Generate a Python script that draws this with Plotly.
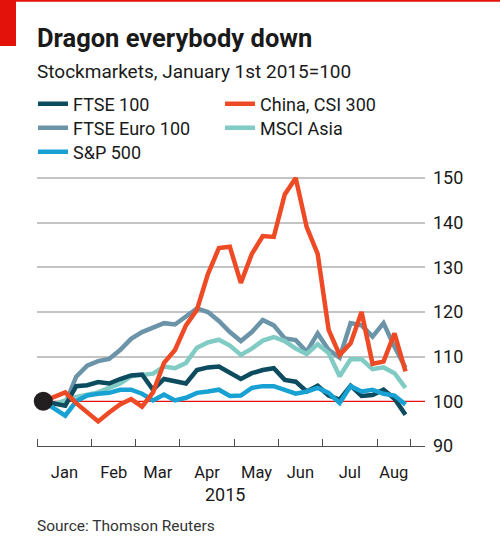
import plotly.graph_objects as go
import pandas as pd

# ---------------- data ----------------
week_start = "2015-01-05"
n_weeks = 34
dates = pd.date_range(week_start, periods=n_weeks, freq="7D")

ftse100 = [100, 99.6, 99.0, 103.4, 103.6, 104.3, 104.0, 105.0, 105.8, 106.0,
           102.6, 105.0, 104.5, 104.0, 107.0, 107.6, 107.8, 106.3, 105.0, 106.3,
           107.0, 107.4, 104.8, 104.4, 102.2, 103.5, 101.3, 100.4, 103.5, 101.2,
           101.4, 102.6, 100.6, 97.0]
china = [100, 101.0, 102.0, 99.6, 97.5, 95.5, 97.5, 99.3, 100.5, 98.8,
         102.0, 108.6, 111.5, 117.0, 120.5, 128.5, 134.3, 134.6, 126.5, 133.0,
         137.0, 136.8, 146.3, 150.0, 139.0, 133.0, 116.0, 110.4, 113.0, 120.0,
         108.4, 108.9, 115.2, 106.7]
ftse_euro = [100, 99.5, 99.5, 105.5, 108.0, 109.0, 109.5, 111.5, 114.0, 115.5,
             116.5, 117.5, 117.2, 119.0, 120.8, 120.0, 118.0, 115.5, 113.5, 115.5,
             118.2, 117.0, 114.1, 113.7, 111.1, 115.2, 111.5, 109.8, 117.5, 117.0,
             114.5, 117.5, 112.2, 107.5]
msci_asia = [100, 99.3, 100.2, 101.0, 101.5, 102.0, 103.0, 104.0, 105.6, 106.0,
             106.2, 107.8, 107.4, 108.6, 112.0, 113.2, 113.8, 112.5, 110.4, 111.8,
             113.6, 114.4, 113.5, 111.8, 110.6, 112.8, 110.8, 105.6, 109.4, 109.4,
             107.2, 107.6, 106.3, 103.0]
sp500 = [100, 98.5, 96.8, 100.0, 101.3, 101.7, 101.9, 102.6, 102.6, 101.7,
         100.2, 101.5, 100.2, 100.8, 101.9, 102.2, 102.6, 101.2, 101.3, 103.0,
         103.4, 103.4, 102.6, 101.7, 102.2, 103.0, 101.9, 99.6, 103.4, 102.2,
         102.6, 101.7, 101.3, 99.3]

month_labels = ["Jan", "Feb", "Mar", "Apr", "May", "Jun", "Jul", "Aug"]
month_bounds = ["2015-01-01", "2015-02-05", "2015-03-05", "2015-04-02", "2015-05-07",
                "2015-06-04", "2015-07-02", "2015-08-06", "2015-08-27"]
y_ticks = [90, 100, 110, 120, 130, 140, 150]
y_grid = [110, 120, 130, 140, 150]

# ---------------- layout helpers ----------------
W, H = 500, 547
ML, MR, MT, MB = 37, 75, 171, 101
PW, PH = W - ML - MR, H - MT - MB
PX_PER_UNIT = 4.4667
PX_PER_DAY = 1.568


def px_x(p):
    return (p - ML) / PW


def px_y(p):
    return (H - MB - p) / PH


b = pd.to_datetime(month_bounds)
mids = [b[i] + (b[i + 1] - b[i]) / 2 for i in range(len(b) - 1)]
x_start = pd.Timestamp("2015-01-01")
x_end = x_start + pd.Timedelta(days=PW / PX_PER_DAY)
y_top = 90 + PH / PX_PER_UNIT

fonts = "Roboto, 'Open Sans', sans-serif"

# name, values, colour, legend id, rank
series = [
    ("FTSE Euro 100", ftse_euro, "#6b94a8", "legend2", 1),
    ("MSCI Asia", msci_asia, "#80ccc5", "legend2", 2),
    ("FTSE 100", ftse100, "#0d4b5f", "legend", 1),
    ("S&P 500", sp500, "#18a1d3", "legend3", 1),
    ("China, CSI 300", china, "#ee4a25", "legend", 2),
]

fig = go.Figure()
for name, vals, col, leg, rank in series:
    fig.add_trace(go.Scatter(
        x=dates, y=vals, mode="lines", name=name, legend=leg, legendrank=rank,
        line=dict(color=col, width=4.5), hoverinfo="skip",
    ))

fig.add_trace(go.Scatter(
    x=[dates[0]], y=[ftse100[0]], mode="markers", showlegend=False,
    marker=dict(size=19, color="#231f20"), cliponaxis=False, hoverinfo="skip",
))


def leg(top):
    return dict(
        orientation="h", x=px_x(33), y=px_y(top), xanchor="left", yanchor="top",
        entrywidth=142, entrywidthmode="pixels",
        font=dict(size=18, color="#1a1a1a"), bgcolor="rgba(0,0,0,0)",
        traceorder="normal", itemclick=False, itemdoubleclick=False,
    )


fig.update_layout(
    width=W, height=H,
    margin=dict(l=ML, r=MR, t=MT, b=MB, pad=0),
    paper_bgcolor="white", plot_bgcolor="white",
    font=dict(family=fonts, color="#1a1a1a"),
    showlegend=True,
    legend=leg(85.5),
    legend2=leg(109.5),
    legend3=leg(133.5),
    xaxis=dict(
        type="date", range=[x_start, x_end],
        tickvals=mids, ticktext=month_labels, ticks="",
        showgrid=False, zeroline=False,
        showline=True, linecolor="#4d4d4d", linewidth=1,
        tickfont=dict(size=16.5, color="#1a1a1a"),
        ticklabelstandoff=11,
        minor=dict(tickvals=list(b), ticks="inside", ticklen=7,
                   tickcolor="#4d4d4d", tickwidth=1, showgrid=False),
    ),
    yaxis=dict(
        side="right", range=[90, y_top], tickvals=y_ticks,
        ticks="", showgrid=False, zeroline=False, showline=False,
        tickfont=dict(size=18, color="#1a1a1a"),
        ticklabelstandoff=7,
        minor=dict(tickvals=y_grid, showgrid=True, gridcolor="#c4c4c4",
                   gridwidth=1.8, ticks=""),
    ),
    shapes=[
        dict(type="line", xref="paper", yref="y", x0=0, x1=1, y0=100, y1=100,
             line=dict(color="#e3120b", width=1.2), layer="below"),
        dict(type="rect", xref="paper", yref="paper",
             x0=px_x(0), x1=px_x(16), y0=px_y(46), y1=px_y(0),
             fillcolor="#e3120b", line=dict(width=0)),
        dict(type="rect", xref="paper", yref="paper",
             x0=px_x(0), x1=px_x(W), y0=px_y(1.8), y1=px_y(0),
             fillcolor="#e3120b", line=dict(width=0)),
    ],
    annotations=[
        dict(text="<b>Dragon everybody down</b>", xref="paper", yref="paper",
             x=px_x(35), y=px_y(38), xanchor="left", yanchor="middle",
             showarrow=False, font=dict(size=25.5, color="#1a1a1a")),
        dict(text="Stockmarkets, January 1st 2015=100", xref="paper", yref="paper",
             x=px_x(35), y=px_y(71.5), xanchor="left", yanchor="middle",
             showarrow=False, font=dict(size=19, color="#1a1a1a")),
        dict(text="2015", xref="paper", yref="paper",
             x=px_x(224.5), y=px_y(494), xanchor="center", yanchor="middle",
             showarrow=False, font=dict(size=18, color="#1a1a1a")),
        dict(text="Source: Thomson Reuters", xref="paper", yref="paper",
             x=px_x(35), y=px_y(526), xanchor="left", yanchor="middle",
             showarrow=False, font=dict(size=15.5, color="#333333")),
    ],
)

fig.write_html("out.html", config={"displayModeBar": False, "staticPlot": True},
               post_script="document.body.style.margin='0';")
